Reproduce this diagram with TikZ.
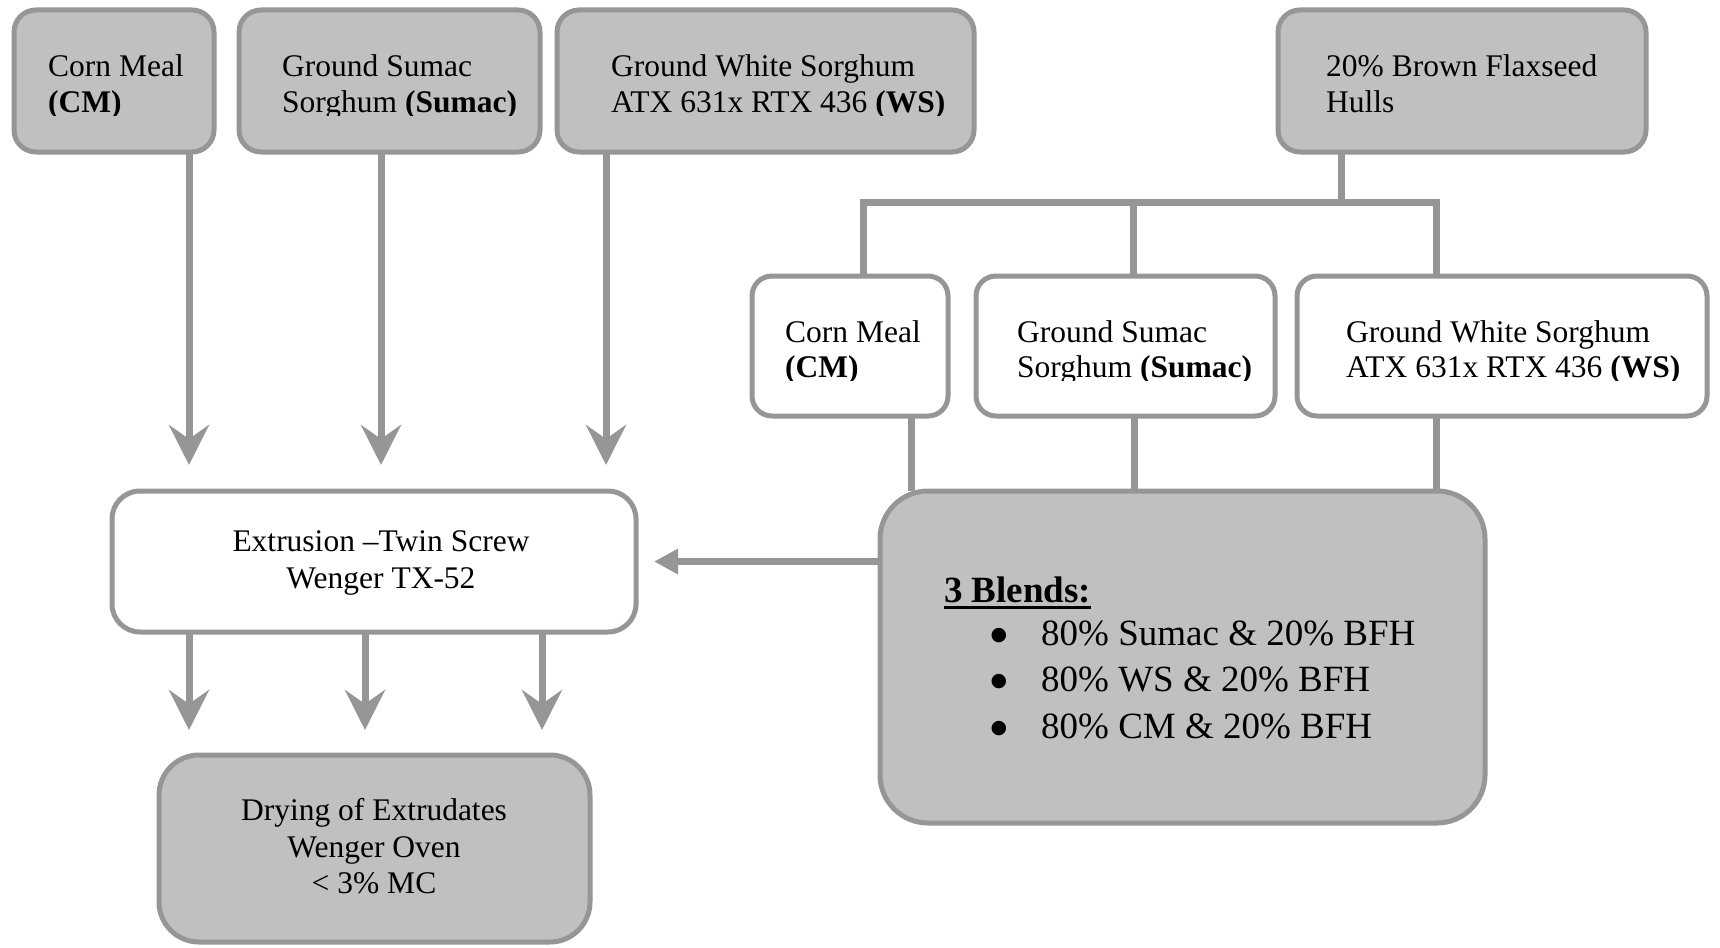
\documentclass[tikz,border=0pt]{standalone}
\usepackage{fontspec}
\setmainfont{Liberation Serif}
\newfontfamily\bulfont{DejaVu Sans}
\usetikzlibrary{arrows.meta}
\definecolor{lg}{RGB}{150,150,150}
\definecolor{fg}{RGB}{192,192,192}
\begin{document}
\begin{tikzpicture}[x=1pt,y=-1pt,
  box/.style={draw=lg, line width=5pt, rounded corners=#1, inner sep=0pt, outer sep=0pt, shape=rectangle},
  gbox/.style={box=#1, fill=fg},
  wbox/.style={box=#1, fill=white},
  ln/.style={draw=lg, line width=7pt},
  arr/.style={draw=lg, line width=7pt, -{Stealth[length=40pt,width=40pt,inset=14pt]}},
  arrs/.style={draw=lg, line width=7pt, -{Triangle[length=24pt,width=24pt]}},
  txt/.style={font=\fontsize{31.5}{36}\selectfont, inner sep=0pt, anchor=base west},
  ctxt/.style={font=\fontsize{31.5}{36}\selectfont, inner sep=0pt, anchor=base},
  btxt/.style={font=\fontsize{37}{46}\selectfont, inner sep=0pt, anchor=base west},
  bul/.style={font=\bulfont\fontsize{19}{23}\selectfont, inner sep=0pt, anchor=base}
]
\useasboundingbox (0,0) rectangle (1720,947);

% boxes
\node[gbox=22pt, minimum width=200pt, minimum height=142pt] (cm) at (114,81) {};
\node[gbox=22pt, minimum width=301pt, minimum height=142pt] (sum) at (389.5,81) {};
\node[gbox=22pt, minimum width=417pt, minimum height=142pt] (ws) at (765.5,81) {};
\node[gbox=22pt, minimum width=368pt, minimum height=142pt] (bfh) at (1462,81) {};
\node[wbox=20pt, minimum width=196pt, minimum height=140pt] (cm2) at (850,346) {};
\node[wbox=20pt, minimum width=299pt, minimum height=140pt] (sum2) at (1125.5,346) {};
\node[wbox=20pt, minimum width=410pt, minimum height=140pt] (ws2) at (1502,346) {};
\node[wbox=28pt, minimum width=524pt, minimum height=141pt] (ext) at (374,561.5) {};
\node[gbox=48pt, minimum width=605pt, minimum height=332pt] (blend) at (1182.5,657) {};
\node[gbox=40pt, minimum width=431pt, minimum height=187pt] (dry) at (374.5,848.5) {};

% top-row text (second line clipped as in the source)
\begin{scope}
\clip (0,0) rectangle (1720,116);
\node[txt] (cmA) at (48,77) {Corn Meal};
\node[txt] (cmB) at (48,113) {\textbf{(CM)}};
\node[txt] (sumA) at (282,77) {Ground Sumac};
\node[txt] (sumB) at (282,113) {Sorghum \textbf{(Sumac)}};
\node[txt] (wsA) at (611,77) {Ground White Sorghum};
\node[txt] (wsB) at (611,113) {ATX 631x RTX 436 \textbf{(WS)}};
\node[txt] (bfhA) at (1326,77) {20\% Brown Flaxseed};
\node[txt] (bfhB) at (1326,113) {Hulls};
\end{scope}

% second-row text
\begin{scope}
\clip (700,250) rectangle (1720,380);
\node[txt] (cm2A) at (785,342) {Corn Meal};
\node[txt] (cm2B) at (785,377) {\textbf{(CM)}};
\node[txt] (sum2A) at (1017,342) {Ground Sumac};
\node[txt] (sum2B) at (1017,377) {Sorghum \textbf{(Sumac)}};
\node[txt] (ws2A) at (1346,342) {Ground White Sorghum};
\node[txt] (ws2B) at (1346,377) {ATX 631x RTX 436 \textbf{(WS)}};
\end{scope}

% extrusion text
\node[ctxt] (extA) at (381,551) {Extrusion –Twin Screw};
\node[ctxt] (extB) at (381,588) {Wenger TX-52};

% drying text
\node[ctxt] (dryA) at (374,820) {Drying of Extrudates};
\node[ctxt] (dryB) at (374,857) {Wenger Oven};
\node[ctxt] (dryC) at (374,893) {< 3\% MC};

% blend text
\node[btxt] (bl) at (944,602) {\textbf{3 Blends:}};
\draw[line width=3.5pt] ([yshift=-5.5pt]bl.base west) -- ([yshift=-5.5pt]bl.base east);
\node[bul] (b1) at (999,640) {●};
\node[bul] (b2) at (999,686.5) {●};
\node[bul] (b3) at (999,733) {●};
\node[btxt] (l1) at (1041,645) {80\% Sumac \& 20\% BFH};
\node[btxt] (l2) at (1041,691.5) {80\% WS \& 20\% BFH};
\node[btxt] (l3) at (1041,738) {80\% CM \& 20\% BFH};

% arrows from top boxes into extrusion
\draw[arr, shorten >=26pt] (cm.south -| 189,0) -- (ext.north -| 189,0);
\draw[arr, shorten >=26pt] (sum.south -| 381,0) -- (ext.north -| 381,0);
\draw[arr, shorten >=26pt] (ws.south -| 606,0) -- (ext.north -| 606,0);

% arrows from extrusion into drying
\draw[arr, shorten >=25pt] (ext.south -| 189,0) -- (dry.north -| 189,0);
\draw[arr, shorten >=25pt] (ext.south -| 365,0) -- (dry.north -| 365,0);
\draw[arr, shorten >=25pt] (ext.south -| 542,0) -- (dry.north -| 542,0);

% blend -> extrusion
\draw[arrs, shorten >=18pt] (blend.west |- ext.center) -- (ext.east);

% tree from BFH
\coordinate (j) at (1341,202);
\draw[ln] (bfh.south -| j) -- (j);
\draw[ln] (cm2.north -| 863,0) -- (863,202) -- (1436,202) -- (ws2.north -| 1436,0);
\draw[ln] (1133,202) -- (sum2.north -| 1133,0);

% second row -> blend
\draw[ln] (cm2.south -| 911,0) -- (blend.north -| 911,0);
\draw[ln] (sum2.south -| 1134,0) -- (blend.north -| 1134,0);
\draw[ln] (ws2.south -| 1436,0) -- (blend.north -| 1436,0);
\end{tikzpicture}
\end{document}
